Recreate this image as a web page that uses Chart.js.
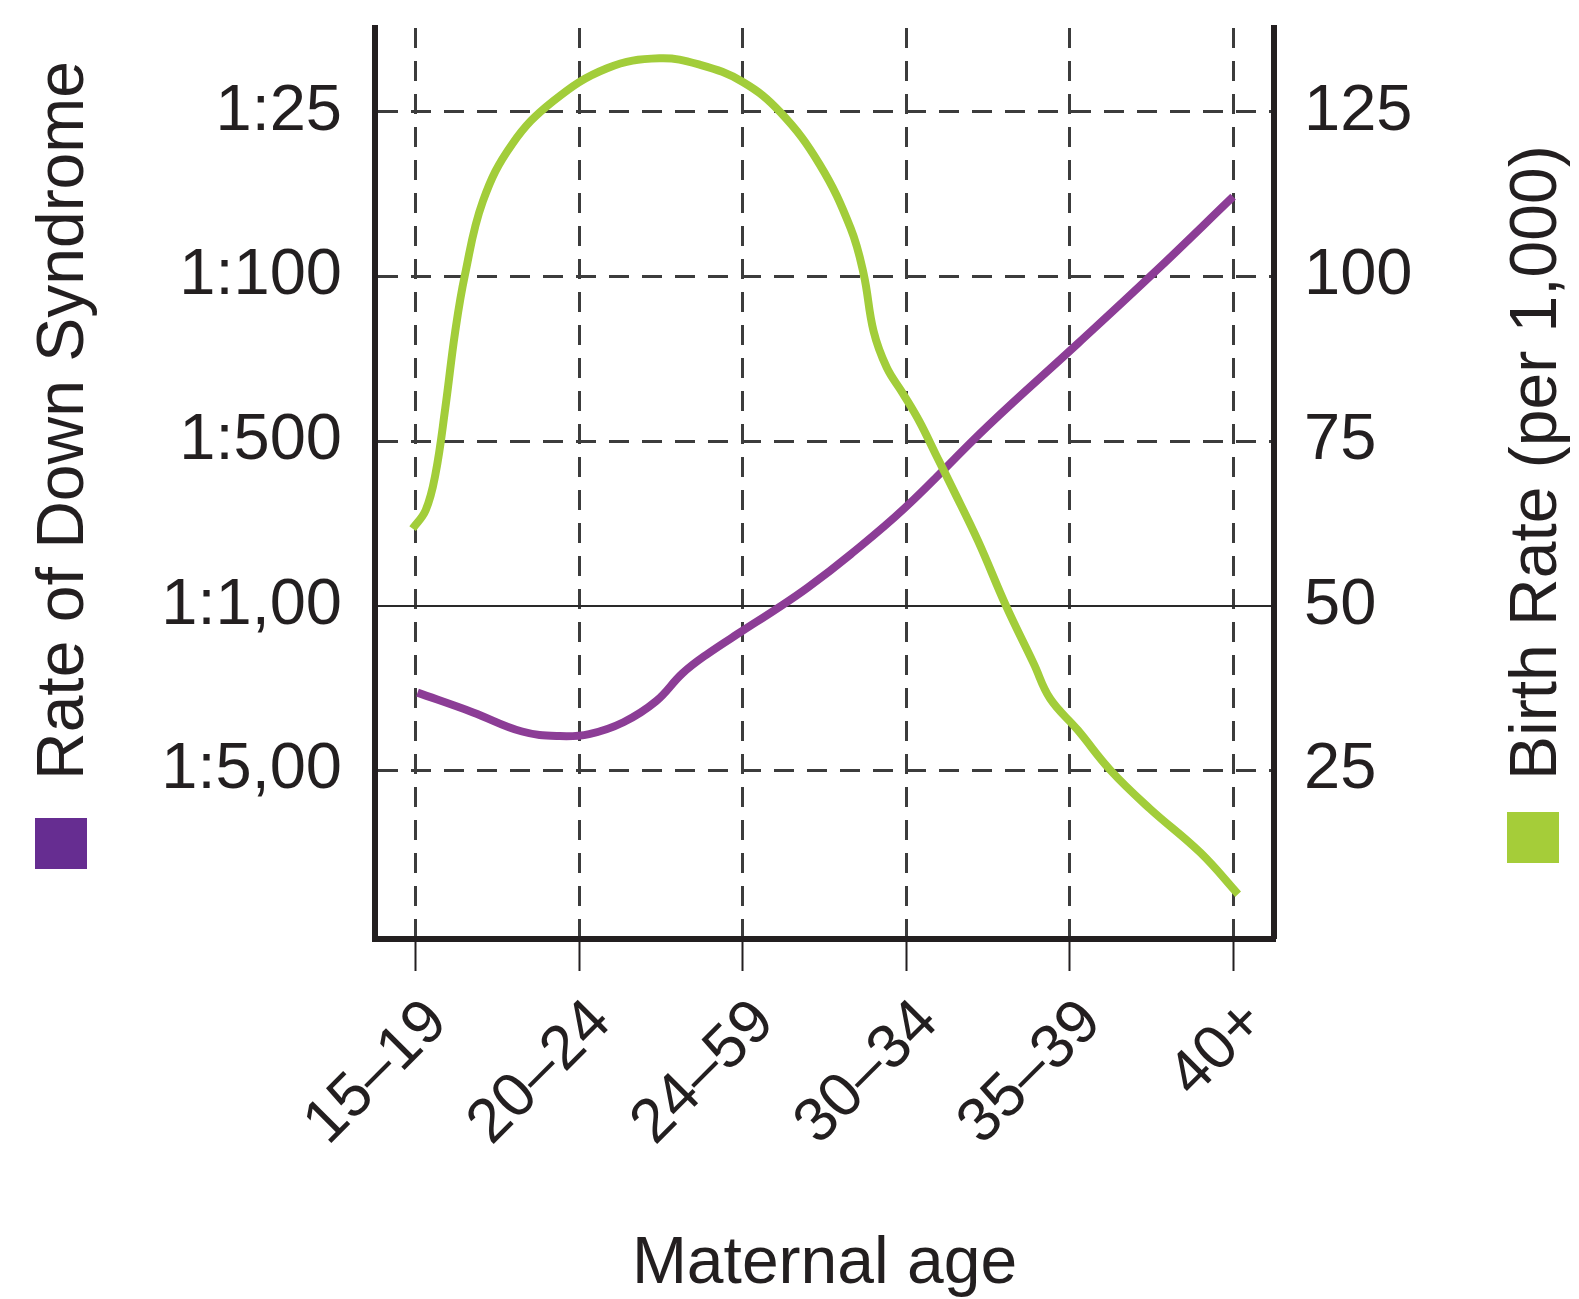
<!DOCTYPE html>
<html>
<head>
<meta charset="utf-8">
<script src="https://cdn.jsdelivr.net/npm/chart.js@4.4.1/dist/chart.umd.min.js"></script>
<style>
  html, body { margin: 0; padding: 0; background: #fff; }
  #wrap { width: 1579px; height: 1299px; position: relative; }
</style>
</head>
<body>
<div id="wrap"><canvas id="chart"></canvas></div>
<script>
const ageLabels = ['15–19', '20–24', '24–59', '30–34', '35–39', '40+'];
const rateTicks = ['1:5,00', '1:1,00', '1:500', '1:100', '1:25'];
const birthTicks = [25, 50, 75, 100, 125];

// birth rate curve (green); x is the age-group index
const birthAge = [-0.02, 0.06, 0.12, 0.18, 0.24, 0.30, 0.41, 0.59, 0.84, 1.17, 1.49, 1.74, 2.0, 2.23, 2.47, 2.66, 2.74,
    2.80, 2.88, 2.98, 3.08, 3.18, 3.28, 3.44, 3.61, 3.78, 3.88, 4.05, 4.25, 4.49, 4.80, 5.03];
const birthRate = [61.7, 64.5, 70, 80, 91.5, 100.2, 111.4, 120.1, 126.6, 131.6, 133.1, 132.1, 129.5, 124.9, 117, 107.3, 100.3,
    91.7, 86.2, 82.2, 78, 73, 68, 59.8, 50, 41.2, 35.9, 31.1, 25, 19.2, 12.5, 6.2];

// Down syndrome rate curve (purple)
const downAge = [0.01, 0.35, 0.65, 0.88, 1.06, 1.27, 1.47, 1.63, 1.78, 2.0, 2.2, 2.4, 2.66, 2.99, 3.5, 4.05, 4.51, 5.0];
const downRate = [36.8, 33.8, 30.9, 30.2, 30.5, 32.3, 35.5, 39.7, 42.6, 46.2, 49.4, 52.8, 57.8, 64.8, 77.3, 89.8, 100.4, 112.1];

const FONT = "'Liberation Sans', Arial, Helvetica, sans-serif";
const INK = '#231f20';
const DASH = '#3c3c3c';

Chart.defaults.font.family = FONT;
Chart.defaults.color = INK;

const toPoints = (xs, ys) => xs.map((x, i) => ({ x: x, y: ys[i] }));

// the chart area is fixed, so drop the room Chart.js keeps for half labels
const noEdgePadding = (scale) => {
    scale.paddingTop = 0;
    scale.paddingBottom = 0;
    scale.paddingLeft = 0;
    scale.paddingRight = 0;
};

const sideTitles = {
    id: 'sideTitles',
    afterDraw(chart) {
        const { ctx, chartArea } = chart;
        const base = chartArea.bottom - 159;
        ctx.save();
        ctx.font = '66px ' + FONT;
        ctx.fillStyle = INK;
        [[83, 'Rate of Down Syndrome'], [1556, 'Birth Rate (per 1,000)']].forEach(([x, text]) => {
            ctx.save();
            ctx.translate(x, base);
            ctx.rotate(-Math.PI / 2);
            ctx.textAlign = 'left';
            ctx.textBaseline = 'alphabetic';
            ctx.fillText(text, 0, 0);
            ctx.restore();
        });
        ctx.fillStyle = '#662d91';
        ctx.fillRect(35, chartArea.bottom - 121, 52, 51);
        ctx.fillStyle = '#a5cd39';
        ctx.fillRect(1507, chartArea.bottom - 127, 52, 51);
        ctx.restore();
    }
};

new Chart(document.getElementById('chart'), {
    type: 'line',
    data: {
        datasets: [
            {
                label: 'Birth Rate (per 1,000)',
                data: toPoints(birthAge, birthRate),
                yAxisID: 'y2',
                borderColor: '#a2cd3a',
                borderWidth: 8,
                pointRadius: 0,
                tension: 0.4
            },
            {
                label: 'Rate of Down Syndrome',
                data: toPoints(downAge, downRate),
                yAxisID: 'y',
                borderColor: '#8c3d96',
                borderWidth: 8,
                pointRadius: 0,
                tension: 0.4
            }
        ]
    },
    options: {
        responsive: true,
        maintainAspectRatio: false,
        animation: false,
        layout: { padding: { top: 28, left: 0, right: 0, bottom: 0 } },
        plugins: {
            legend: { display: false },
            tooltip: { enabled: false }
        },
        scales: {
            x: {
                type: 'linear',
                min: -0.25,
                max: 5.25,
                afterBuildTicks: (scale) => {
                    scale.ticks = ageLabels.map((_, i) => ({ value: i }));
                },
                afterFit: (scale) => { scale.height = 360; noEdgePadding(scale); },
                ticks: {
                    autoSkip: false,
                    minRotation: 45,
                    maxRotation: 45,
                    padding: 15,
                    labelOffset: 22,
                    font: { size: 62 },
                    color: INK,
                    callback: (value) => ageLabels[value]
                },
                grid: {
                    color: DASH,
                    lineWidth: 3,
                    drawTicks: true,
                    tickLength: 32,
                    tickWidth: 2,
                    tickColor: INK
                },
                border: { display: true, color: INK, width: 6, dash: [20, 13] },
                title: {
                    display: true,
                    text: 'Maternal age',
                    color: INK,
                    font: { size: 66, lineHeight: 1 },
                    padding: { top: 0, bottom: 1 }
                }
            },
            y: {
                position: 'left',
                min: -0.6,
                max: 137.7,
                afterBuildTicks: (scale) => {
                    scale.ticks = birthTicks.map(v => ({ value: v }));
                },
                afterFit: (scale) => { scale.width = 375; noEdgePadding(scale); },
                ticks: {
                    padding: 33,
                    font: { size: 65 },
                    color: INK,
                    callback: (value) => rateTicks[birthTicks.indexOf(value)]
                },
                grid: {
                    color: DASH,
                    lineWidth: (ctx) => (ctx.tick && ctx.tick.value === 50 ? 0 : 3),
                    drawTicks: false
                },
                border: { display: true, color: INK, width: 6, dash: [20, 13] }
            },
            y2: {
                position: 'right',
                min: -0.6,
                max: 137.7,
                afterBuildTicks: (scale) => {
                    scale.ticks = birthTicks.map(v => ({ value: v }));
                },
                afterFit: (scale) => { scale.width = 305; noEdgePadding(scale); },
                ticks: {
                    padding: 30,
                    font: { size: 65 },
                    color: INK,
                    callback: (value) => String(value)
                },
                grid: {
                    color: '#2a2a2a',
                    lineWidth: (ctx) => (ctx.tick && ctx.tick.value === 50 ? 2 : 0),
                    drawTicks: false
                },
                border: { display: true, color: INK, width: 6 }
            }
        }
    },
    plugins: [sideTitles]
});
</script>
</body>
</html>
